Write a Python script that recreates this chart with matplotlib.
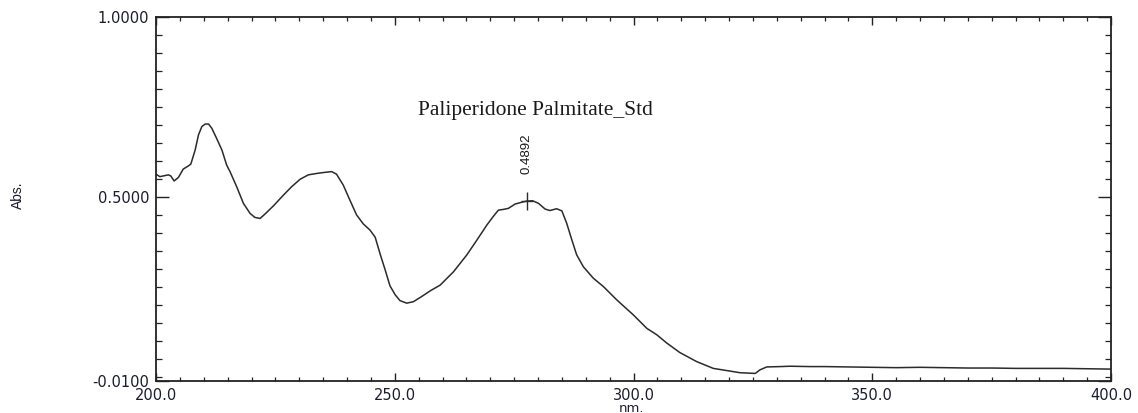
import matplotlib
matplotlib.use("Agg")
import matplotlib.pyplot as plt
import numpy as np

# ---- data ----
wavelength = [200.0, 200.8, 202.6, 203.1, 203.8, 204.7, 205.7, 206.8, 207.3, 208.2,
              208.9, 209.6, 210.3, 211.0, 211.7, 212.7, 213.8, 214.8, 215.5, 216.9,
              218.3, 219.7, 220.7, 221.8, 222.8, 224.6, 226.7, 228.4, 230.2, 231.9,
              233.7, 235.4, 236.8, 237.8, 239.2, 240.6, 242.0, 243.4, 244.8, 245.9,
              246.9, 248.0, 249.0, 250.1, 251.1, 252.5, 253.9, 255.6, 257.4, 259.5,
              262.3, 265.1, 267.2, 269.3, 270.6, 271.7, 272.7, 273.8, 275.2, 276.6,
              277.6, 278.9, 280.1, 281.5, 282.5, 283.9, 285.0, 286.0, 287.1, 288.1,
              289.5, 291.6, 293.7, 296.5, 300.0, 302.8, 304.9, 307.0, 309.7, 313.2,
              316.7, 319.5, 322.3, 325.5, 326.5, 327.9, 330.7, 332.8, 337.0, 340.0,
              345.0, 350.0, 355.0, 360.0, 365.0, 370.0, 375.0, 380.0, 385.0, 390.0,
              395.0, 400.0]
absorbance = [0.564, 0.557, 0.562, 0.559, 0.545, 0.555, 0.578, 0.587, 0.592, 0.631,
              0.673, 0.696, 0.703, 0.703, 0.691, 0.663, 0.631, 0.589, 0.571, 0.529,
              0.483, 0.455, 0.444, 0.441, 0.453, 0.476, 0.506, 0.529, 0.550, 0.562,
              0.566, 0.569, 0.571, 0.564, 0.534, 0.492, 0.451, 0.426, 0.409, 0.389,
              0.344, 0.298, 0.254, 0.229, 0.213, 0.206, 0.210, 0.224, 0.240, 0.256,
              0.293, 0.340, 0.381, 0.423, 0.446, 0.464, 0.466, 0.469, 0.481, 0.486,
              0.4892, 0.490, 0.483, 0.467, 0.463, 0.468, 0.462, 0.428, 0.381, 0.340,
              0.307, 0.275, 0.252, 0.215, 0.173, 0.136, 0.118, 0.095, 0.069, 0.044,
              0.025, 0.019, 0.013, 0.011, 0.021, 0.029, 0.030, 0.031, 0.030, 0.030,
              0.029, 0.028, 0.027, 0.028, 0.027, 0.026, 0.026, 0.025, 0.025, 0.025,
              0.024, 0.023]

peak_wl = 277.6
peak_abs = 0.4892
peak_label = "0.4892"

title = "Paliperidone Palmitate_Std"
x_label = "nm."
y_label = "Abs."
x_ticks = [200.0, 250.0, 300.0, 350.0, 400.0]
x_ticklabels = ["200.0", "250.0", "300.0", "350.0", "400.0"]
y_ticks = [-0.01, 0.5, 1.0]
y_ticklabels = ["-0.0100", "0.5000", "1.0000"]

# ---- figure ----
W, H = 1138, 413
fig = plt.figure(figsize=(W / 100, H / 100), dpi=100)
ax = fig.add_axes([156 / W, 1 - 381 / H, (1111 - 156) / W, (381 - 17) / H])

line_col = "#2b2b2b"
txt_col = "#1c1c30"

ax.plot(wavelength, absorbance, color=line_col, lw=1.1)
ax.plot([peak_wl], [peak_abs], marker="|", ms=13, mew=1.0, color=line_col)
ax.plot([peak_wl], [peak_abs], marker="_", ms=8, mew=1.0, color=line_col)

ax.set_xlim(200, 400)
ax.set_ylim(-0.01, 1.0)

ax.set_xticks(x_ticks)
ax.set_xticklabels(x_ticklabels)
ax.set_xticks(np.arange(205, 400, 5), minor=True)
ax.set_yticks(y_ticks)
ax.set_yticklabels(y_ticklabels)
ax.set_yticks([0.0] + list(np.arange(0.05, 0.999, 0.05)), minor=True)

for s in ax.spines.values():
    s.set_linewidth(1.3)
    s.set_color("#222222")

ax.tick_params(axis="x", which="major", direction="in", length=6, width=1.0,
               top=True, bottom=True, pad=5, labelsize=10.5, labelcolor=txt_col,
               color="#222222")
ax.tick_params(axis="x", which="minor", direction="in", length=3, width=0.9,
               top=True, bottom=True, color="#222222")
ax.tick_params(axis="y", which="major", direction="in", length=9.5, width=1.0,
               left=True, right=True, pad=5, labelsize=10.5, labelcolor=txt_col,
               color="#222222")
ax.tick_params(axis="y", which="minor", direction="in", length=4.5, width=0.9,
               left=True, right=True, color="#222222")
for lab in ax.get_xticklabels() + ax.get_yticklabels():
    lab.set_family("DejaVu Sans")

fig.text(632 / W, 1 - 408.5 / H, x_label, ha="center", va="center",
         fontsize=9.5, family="DejaVu Sans", color=txt_col)
fig.text(18 / W, 1 - 195 / H, y_label, ha="center", va="center", rotation=90,
         fontsize=10, family="Liberation Sans", color=txt_col)

fig.text(535 / W, 1 - 111 / H, title, ha="center", va="center",
         fontsize=15.5, family="Liberation Serif", color="#1a1a1a")
ax.annotate(peak_label, xy=(peak_wl, peak_abs), xytext=(0, 47),
            textcoords="offset pixels", rotation=90, ha="center", va="center",
            fontsize=9.5, family="Liberation Sans", color="#1a1a1a")

fig.savefig("out.png", dpi=100, facecolor="white")
